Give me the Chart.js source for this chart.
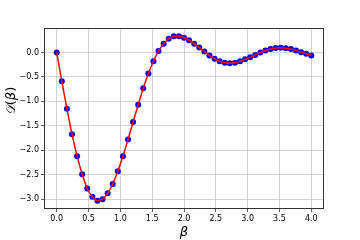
<!DOCTYPE html>
<html>
<head>
<meta charset="utf-8">
<script src="https://cdn.jsdelivr.net/npm/chart.js@4.4.1/dist/chart.umd.min.js"></script>
<style>
html,body{margin:0;padding:0;background:#fff;}
#wrap{width:360px;height:240px;}
</style>
</head>
<body>
<div id="wrap"><canvas id="c" width="360" height="240"></canvas></div>
<script>
const betaValues = [0.00,0.08,0.16,0.24,0.32,0.40,0.48,0.56,0.64,0.72,0.80,0.88,0.96,1.04,1.12,1.20,1.28,1.36,1.44,1.52,1.60,1.68,1.76,1.84,1.92,2.00,
  2.08,2.16,2.24,2.32,2.40,2.48,2.56,2.64,2.72,2.80,2.88,2.96,3.04,3.12,3.20,3.28,3.36,3.44,3.52,3.60,3.68,3.76,3.84,3.92,4.00];
const dValues = [0.00,-0.59,-1.15,-1.67,-2.12,-2.49,-2.78,-2.95,-3.03,-3.00,-2.88,-2.69,-2.43,-2.12,-1.78,-1.42,-1.07,-0.73,-0.43,-0.18,0.03,0.18,0.28,0.33,0.33,0.30,
  0.25,0.18,0.10,0.02,-0.06,-0.13,-0.18,-0.21,-0.22,-0.21,-0.18,-0.14,-0.10,-0.05,0.00,0.04,0.07,0.09,0.095,0.088,0.07,0.04,0.005,-0.025,-0.06];
const xTicks = [0.0,0.5,1.0,1.5,2.0,2.5,3.0,3.5,4.0];
const yTicks = [-3.0,-2.5,-2.0,-1.5,-1.0,-0.5,0.0];
const xLabel = 'β';
const yLabelParts = ['𝒟', '(', 'β', ')'];

const pts = betaValues.map((b,i)=>({x:b,y:dValues[i]}));
const fmt = v => { const s = Math.abs(v).toFixed(1); return (v < -1e-9 ? '\u2212' : '') + s; };

const frame = {
  id:'frame',
  afterDraw(chart){
    const a = chart.chartArea, ctx = chart.ctx;
    ctx.save();
    ctx.strokeStyle = '#333';
    ctx.lineWidth = 1;
    ctx.strokeRect(Math.round(a.left)+0.5, Math.round(a.top)+0.5, Math.round(a.right-a.left)-1, Math.round(a.bottom-a.top)-1);
    // y-axis label drawn rotated, mixed italic
    const styles = ['italic 13px "DejaVu Sans"', '13px "DejaVu Sans"', 'italic 13px "DejaVu Sans"', '13px "DejaVu Sans"'];
    let total = 0;
    const widths = yLabelParts.map((p,i)=>{ ctx.font = styles[i]; const w = ctx.measureText(p).width; total += w; return w; });
    ctx.translate(12, 101);
    ctx.rotate(-Math.PI/2);
    ctx.fillStyle = '#000';
    ctx.textBaseline = 'middle';
    ctx.textAlign = 'left';
    let x = -total/2;
    yLabelParts.forEach((p,i)=>{ ctx.font = styles[i]; ctx.fillText(p, x, 0); x += widths[i]; });
    ctx.restore();
  }
};

new Chart(document.getElementById('c'), {
  type:'scatter',
  data:{datasets:[
    {label:'line', data:pts, showLine:true, borderColor:'#ff0000', borderWidth:1.5, pointRadius:0, cubicInterpolationMode:'monotone', order:0},
    {label:'pts', data:pts, showLine:false, pointRadius:3, pointBackgroundColor:'#0000ff', pointBorderColor:'#0000ff', pointBorderWidth:0, order:1}
  ]},
  plugins:[frame],
  options:{
    responsive:false, animation:false,
    layout:{padding:{left:0,right:36,top:28,bottom:0}},
    plugins:{legend:{display:false}, tooltip:{enabled:false}},
    scales:{
      x:{type:'linear', min:-0.2, max:4.2,
        afterBuildTicks(s){ s.ticks = xTicks.map(v=>({value:v})); },
        afterFit(s){ s.height = 31; },
        grid:{color:'#c8c8c8', lineWidth:0.8, tickColor:'#333', tickLength:3},
        border:{display:false},
        ticks:{color:'#000', font:{family:'DejaVu Sans', size:8}, padding:2, maxRotation:0, callback:v=>fmt(v)},
        title:{display:true, text:xLabel, color:'#000', font:{family:'DejaVu Sans', size:13, style:'italic'}, padding:{top:0,bottom:0}}
      },
      y:{type:'linear', min:-3.2, max:0.5,
        afterBuildTicks(s){ s.ticks = yTicks.map(v=>({value:v})); },
        afterFit(s){ s.width = 44; },
        grid:{color:'#c8c8c8', lineWidth:0.8, tickColor:'#333', tickLength:3},
        border:{display:false},
        ticks:{color:'#000', font:{family:'DejaVu Sans', size:8}, padding:2, callback:v=>fmt(v)},
        title:{display:false}
      }
    }
  }
});
</script>
</body>
</html>
